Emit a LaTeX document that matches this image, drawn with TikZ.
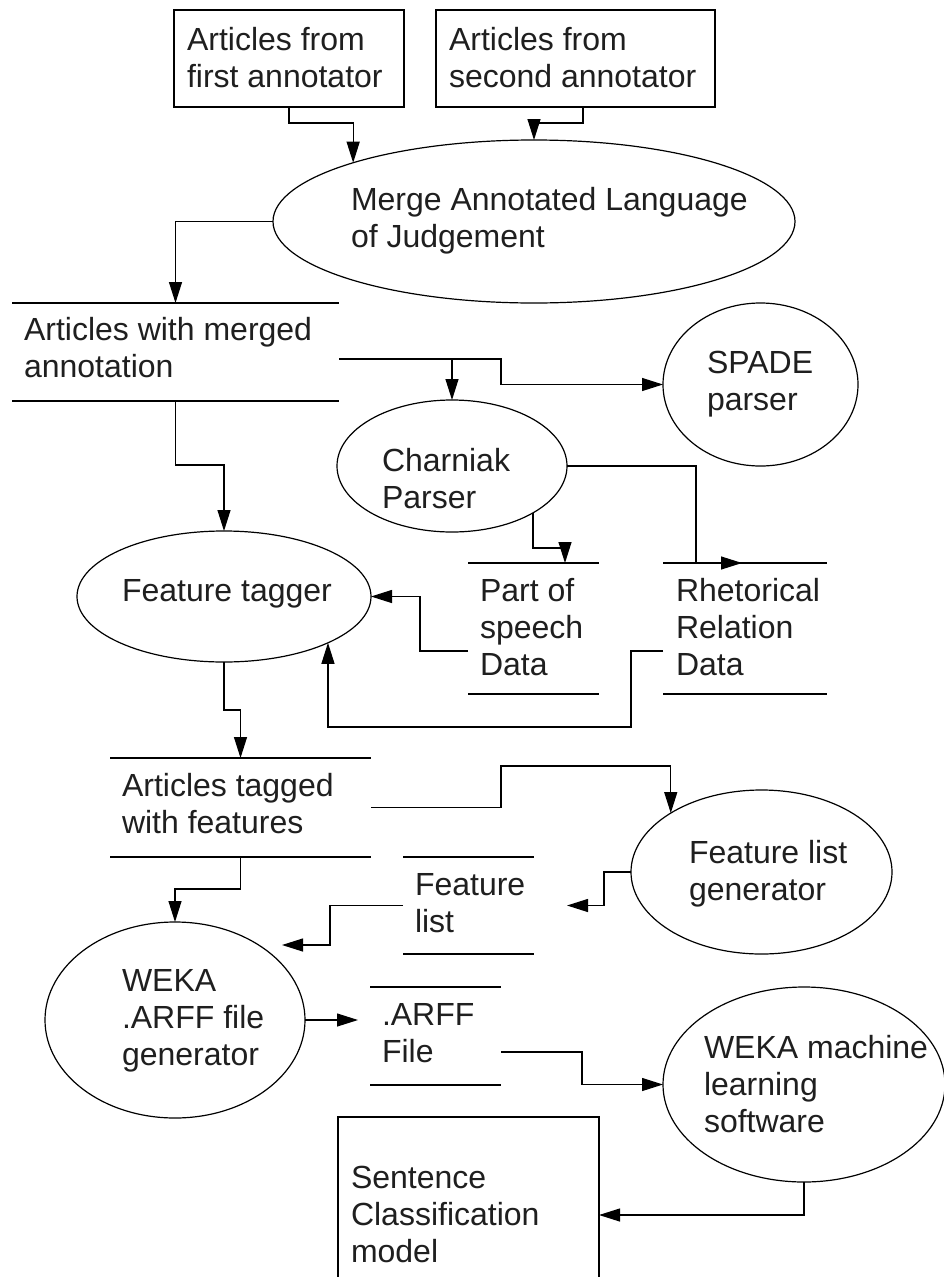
\documentclass[tikz,border=0pt]{standalone}
\usepackage{fontspec}
\setmainfont{Liberation Sans}
\usetikzlibrary{arrows.meta,shapes.geometric}

\begin{document}
\begin{tikzpicture}[x=1pt,y=-1pt,
  line width=1.2pt,
  proc/.style={draw, ellipse, inner sep=0pt, outer sep=0pt},
  src/.style={draw, rectangle, inner sep=0pt, outer sep=0pt},
  store/.style={rectangle, inner sep=0pt, outer sep=0pt},
  txt/.style={anchor=north west, inner sep=0pt, outer sep=0pt, align=left,
              font=\fontsize{32}{37}\selectfont, text=black!88},
  arr/.style={-{Triangle[length=21pt,width=13pt]}},
]
% page
\fill[white] (0,0) rectangle (944,1277);
\useasboundingbox (0,0) rectangle (944,1277);

% external sources and sink
\node[src, minimum width=230pt, minimum height=97pt] (box1) at (289,58.5) {};
\node[src, minimum width=279pt, minimum height=97pt] (box2) at (575.5,58.5) {};
\node[src, minimum width=261pt, minimum height=196pt] (sentence) at (468.5,1215) {};

% processes
\node[proc, minimum width=522pt, minimum height=163pt] (merge)    at (534,221.5) {};
\node[proc, minimum width=195pt, minimum height=163pt] (spade)    at (760.5,384.5) {};
\node[proc, minimum width=230pt, minimum height=132pt] (charniak) at (452,466) {};
\node[proc, minimum width=294pt, minimum height=131pt] (tagger)   at (224,596.5) {};
\node[proc, minimum width=261pt, minimum height=164pt] (flg)      at (761.5,872) {};
\node[proc, minimum width=260pt, minimum height=196pt] (wekagen)  at (175,1020) {};
\node[proc, minimum width=282pt, minimum height=195pt] (wekaml)   at (804,1084.5) {};

% data stores
\node[store, minimum width=327pt, minimum height=98pt] (mergedart) at (175.5,352) {};
\node[store, minimum width=131pt, minimum height=131pt] (pos)      at (533.5,628.5) {};
\node[store, minimum width=164pt, minimum height=131pt] (rhet)     at (745,628.5) {};
\node[store, minimum width=261pt, minimum height=99pt] (tagged)    at (240.5,807.5) {};
\node[store, minimum width=131pt, minimum height=97pt] (flist)     at (468.5,905.5) {};
\node[store, minimum width=131pt, minimum height=98pt] (arff)      at (435.5,1036) {};
\foreach \s in {mergedart,pos,rhet,tagged,flist,arff}
  \draw (\s.north west) -- (\s.north east) (\s.south west) -- (\s.south east);

% labels
\node[txt] (l-box1)     at (187,26)   {\rule{0pt}{24pt}Articles from\\first annotator};
\node[txt] (l-box2)     at (449,26)   {\rule{0pt}{24pt}Articles from\\second annotator};
\node[txt] (l-merge)    at (351,186)  {\rule{0pt}{24pt}Merge Annotated Language\\of Judgement};
\node[txt] (l-merged)   at (24,316)   {\rule{0pt}{24pt}Articles with merged\\annotation};
\node[txt] (l-spade)    at (707,349)  {\rule{0pt}{24pt}SPADE\\parser};
\node[txt] (l-charniak) at (382,447)  {\rule{0pt}{24pt}Charniak\\Parser};
\node[txt] (l-pos)      at (480,577)  {\rule{0pt}{24pt}Part of\\speech\\Data};
\node[txt] (l-rhet)     at (676,577)  {\rule{0pt}{24pt}Rhetorical\\Relation\\Data};
\node[txt] (l-tagger)   at (122,577)  {\rule{0pt}{24pt}Feature tagger};
\node[txt] (l-tagged)   at (122,772)  {\rule{0pt}{24pt}Articles tagged\\with features};
\node[txt] (l-flist)    at (415,871)  {\rule{0pt}{24pt}Feature\\list};
\node[txt] (l-flg)      at (689,839)  {\rule{0pt}{24pt}Feature list\\generator};
\node[txt] (l-wekagen)  at (122,967)  {\rule{0pt}{24pt}WEKA\\.ARFF file\\generator};
\node[txt] (l-arff)     at (382,1001) {\rule{0pt}{24pt}.ARFF\\File};
\node[txt] (l-wekaml)   at (704,1034) {\rule{0pt}{24pt}WEKA machine\\learning\\software};
\node[txt] (l-sentence) at (351,1164) {\rule{0pt}{24pt}Sentence\\Classification\\model};

% flows
\draw[arr] (box1.south) -- ++(0,16) -| (merge.162.5);
\draw[arr] ([xshift=7.5pt]box2.south) -- ++(0,16) -| (merge.north);
\draw[arr] (merge.west) -| (mergedart.north);
\draw[arr] (mergedart.south) -- ++(0,64) -| (tagger.north);
\draw[arr] ([yshift=-7pt]mergedart.east) -| (charniak.north);
\draw[arr] ([yshift=-7pt]mergedart.east) -- ++(162,0) |- (spade.west);
\draw[arr] (charniak.-30) |- ([xshift=31.5pt,yshift=15pt]pos.north) -- ([xshift=31.5pt]pos.north);
\draw[arr] (charniak.east) -| ([xshift=-49pt]rhet.north) -- ([xshift=-3pt]rhet.north);
\draw[arr] ([yshift=-22.5pt]pos.west) -- ++(-48,0) |- (tagger.east);
\draw[arr] ([yshift=-22.5pt]rhet.west) -- ++(-32,0) -- ++(0,76) -| (tagger.-24);
\draw[arr] (tagger.south) -- ++(0,48) -| (tagged.north);
\draw[arr] (tagged.east) -- ++(130,0) -- ++(0,-41.5) -| (flg.147.4);
\draw[arr] (tagged.south) -- ++(0,32) -| (wekagen.north);
\draw[arr] (flg.west) -- ++(-27,0) |- ([xshift=33pt]flist.east);
\draw[arr] (flist.west) -- ++(-73,0) |- ([xshift=107pt,yshift=-23pt]wekagen.north);
\draw[arr] (wekagen.east) -- ++(53,0);
\draw[arr] ([yshift=-16pt]arff.east) -- ++(81,0) |- (wekaml.west);
\draw[arr] (wekaml.south) |- (sentence.east);
\end{tikzpicture}
\end{document}
